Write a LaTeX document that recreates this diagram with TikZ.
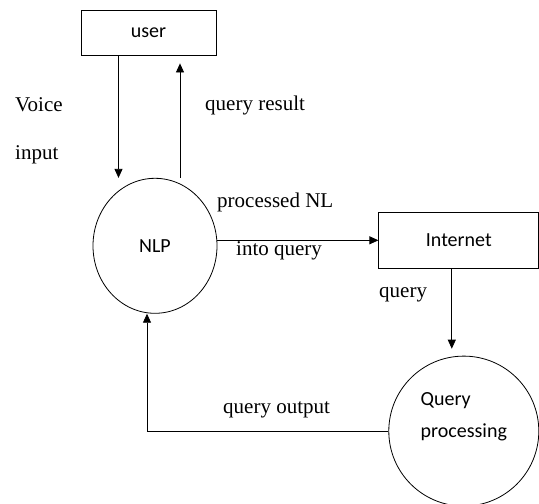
\documentclass[tikz,border=0pt]{standalone}
\usepackage{fontspec}
\setmainfont{Liberation Serif}
\newfontfamily\calibri{Carlito}
\usetikzlibrary{positioning,shapes.geometric,arrows.meta}

\tikzset{
	sansfont/.style = {font=\calibri\fontsize{20}{32}\selectfont},
	serfont/.style = {font=\fontsize{21}{25}\selectfont},
	block/.style = {draw, rectangle, line width=0.8pt, sansfont, inner sep=0pt},
	proc/.style = {draw, ellipse, line width=0.8pt, sansfont, inner sep=0pt},
	flow/.style = {line width=0.8pt, -{Triangle[length=9pt,width=8pt]}},
	lbl/.style = {serfont, anchor=west, inner sep=0pt},
}

\begin{document}
\begin{tikzpicture}[x=1pt, y=1pt]
		\useasboundingbox (0,0) rectangle (539,-504);
		
		\node [block, minimum width=135pt, minimum height=45pt] (user) at (148.5,-32.5) {user};
		\node [proc, minimum width=124pt, minimum height=135pt, below = 122.5pt of user, xshift=6.5pt] (nlp) {NLP};
		\node [block, minimum width=160pt, minimum height=56pt, right = 161pt of nlp, yshift=5.5pt] (internet) {Internet};
		\node [proc, minimum width=150pt, minimum height=150pt, below = 87pt of internet, xshift=5pt] (qp) {};
		\node [sansfont, align=left, inner sep=0pt] (qptext) at ([yshift=14pt]qp.center) {Query\\processing};
		
		\node [lbl] (voice) at (15,-105) {Voice};
		\node [lbl] (input) at (15,-155) {input};
		\node [lbl] (result) at (205,-105) {query result};
		\node [lbl] (procnl) at (217,-202) {processed NL};
		\node [lbl] (intoq) at (236,-251) {into query};
		\node [lbl] (query) at (379,-295) {query};
		\node [lbl] (qout) at (223,-410) {query output};
		
		\draw [flow] ([xshift=-30pt]user.south) -- ([xshift=-30pt]user.south |- nlp.north);
		\draw [flow, shorten >=8pt] ([xshift=31.5pt]user.south |- nlp.north) -- ([xshift=31.5pt]user.south);
		\draw [flow] (nlp.east |- internet.west) -- (internet.west);
		\draw [flow, shorten >=7pt] ([xshift=-7pt]internet.south) -- ([xshift=-7pt]internet.south |- qp.north);
		\draw [flow] (qp.west) -| ([xshift=-8pt]nlp.south);
		
	\end{tikzpicture}
\end{document}
